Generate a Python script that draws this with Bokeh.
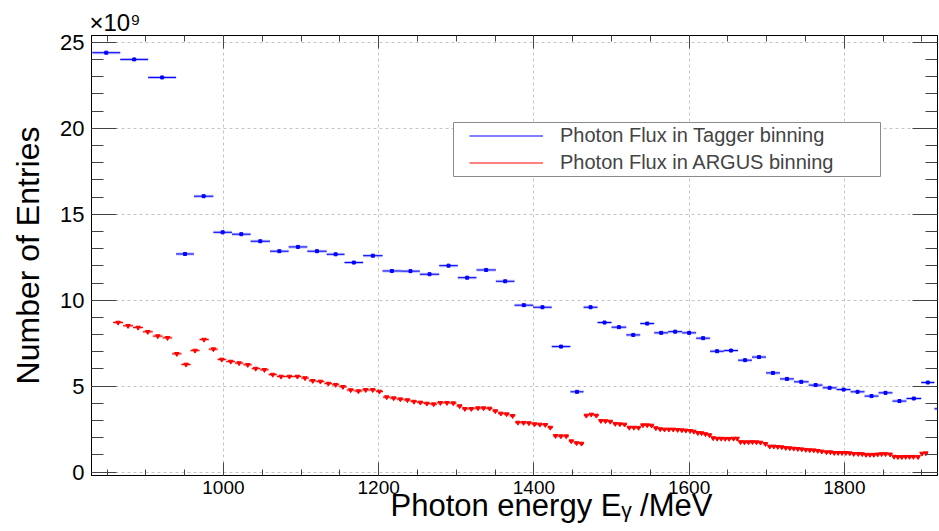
import numpy as np
from bokeh.plotting import figure
from bokeh.models import (Range1d, LinearAxis, SingleIntervalTicker, Legend, LegendItem,
                          BoxAnnotation, ColumnDataSource, Grid, Title)
from bokeh.embed import file_html
from bokeh.resources import INLINE

# ---------------- data (flux in units of 1e9) ----------------
tagger_edges = [831, 867, 903, 939, 962, 987, 1011, 1035, 1060, 1084, 1108, 1133, 1156,
                1180, 1205, 1229, 1253, 1278, 1302, 1326, 1351, 1375, 1399, 1423, 1447,
                1464, 1482, 1500, 1519, 1537, 1555, 1573, 1591, 1609, 1627, 1645, 1663,
                1681, 1699, 1717, 1735, 1754, 1772, 1790, 1808, 1826, 1844, 1862, 1880,
                1899, 1916, 1934]
tagger_flux = [24.40, 24.01, 22.96, 12.69, 16.05, 13.95, 13.84, 13.43, 12.85, 13.10,
               12.85, 12.67, 12.19, 12.59, 11.70, 11.69, 11.51, 12.01, 11.31, 11.76,
               11.10, 9.71, 9.59, 7.30, 4.67, 9.59, 8.70, 8.43, 7.98, 8.64,
               8.10, 8.17, 8.10, 7.79, 7.03, 7.07, 6.51, 6.69, 5.77, 5.42,
               5.25, 5.06, 4.90, 4.80, 4.67, 4.42, 4.61, 4.13, 4.28, 5.21, 3.68]

argus_energy = [864.3, 877.1, 890.0, 902.5, 915.4, 927.9, 939.9, 951.8, 963.4, 975.0,
                987.1, 997.8, 1009.4, 1020.1, 1031.3, 1041.6, 1052.8, 1063.5, 1074.2, 1085.0,
                1095.3, 1105.1, 1115.0, 1124.9, 1135.2, 1144.6, 1154.0, 1163.9, 1173.9, 1183.3,
                1192.3, 1200.9, 1210.3, 1219.3, 1227.9, 1237.0, 1245.5, 1253.7, 1262.2, 1270.8,
                1279.5, 1288.0, 1296.2, 1304.3, 1311.1, 1319.4, 1327.9, 1335.2, 1342.9, 1350.3,
                1357.5, 1364.8, 1372.6, 1379.4, 1386.7, 1393.6, 1400.9, 1407.7, 1414.7, 1421.1,
                1427.9, 1434.8, 1441.7, 1448.2, 1455.0, 1461.4, 1467.5, 1473.9, 1480.4, 1486.3,
                1492.3, 1498.4, 1504.8, 1510.8, 1516.8, 1522.9, 1528.8, 1534.8, 1540.4, 1546.0,
                1551.6, 1557.1, 1562.8, 1568.3, 1573.9, 1579.5, 1585.1, 1590.6, 1595.7, 1601.4,
                1606.1, 1611.2, 1616.0, 1621.1, 1626.3, 1631.0, 1636.2, 1641.3, 1646.5, 1651.6,
                1657.2, 1661.9, 1666.2, 1671.3, 1676.5, 1681.6, 1686.8, 1692.0, 1698.4, 1703.9,
                1709.1, 1714.2, 1719.4, 1724.5, 1729.7, 1734.8, 1740.0, 1745.1, 1750.3, 1755.4,
                1760.6, 1765.7, 1770.9, 1777.0, 1782.0, 1787.0, 1792.0, 1797.0, 1802.0, 1807.0,
                1812.0, 1818.0, 1823.0, 1828.0, 1833.0, 1838.0, 1843.0, 1848.0, 1853.0, 1859.0,
                1864.0, 1869.0, 1874.0, 1879.0, 1884.0, 1889.0, 1895.0, 1900.0, 1905.0]
argus_flux = [8.70, 8.51, 8.41, 8.16, 7.91, 7.81, 6.88, 6.26, 7.07, 7.71,
              7.15, 6.55, 6.43, 6.34, 6.24, 6.02, 5.95, 5.67, 5.56, 5.56,
              5.56, 5.47, 5.31, 5.27, 5.15, 5.08, 4.96, 4.77, 4.71, 4.78,
              4.78, 4.69, 4.36, 4.30, 4.24, 4.19, 4.10, 4.05, 3.99, 3.95,
              4.03, 4.03, 4.01, 3.84, 3.68, 3.68, 3.72, 3.72, 3.70, 3.55,
              3.41, 3.37, 3.27, 2.88, 2.87, 2.85, 2.79, 2.77, 2.75, 2.59,
              2.11, 2.09, 2.09, 1.80, 1.69, 1.66, 3.29, 3.35, 3.29, 2.98,
              2.97, 2.94, 2.81, 2.79, 2.77, 2.59, 2.59, 2.58, 2.73, 2.73,
              2.71, 2.56, 2.50, 2.48, 2.48, 2.48, 2.46, 2.44, 2.42, 2.40,
              2.36, 2.28, 2.27, 2.21, 2.15, 1.98, 1.95, 1.95, 1.94, 1.94,
              1.95, 1.95, 1.75, 1.74, 1.74, 1.75, 1.74, 1.72, 1.64, 1.49,
              1.49, 1.47, 1.45, 1.41, 1.39, 1.37, 1.35, 1.33, 1.30, 1.28,
              1.27, 1.24, 1.20, 1.16, 1.16, 1.12, 1.12, 1.12, 1.12, 1.10,
              1.06, 1.06, 1.05, 1.01, 1.01, 1.01, 1.03, 1.05, 1.05, 1.03,
              0.90, 0.88, 0.88, 0.89, 0.89, 0.89, 0.88, 1.08, 1.10]

series_labels = ["Photon Flux in Tagger binning", "Photon Flux in ARGUS binning"]
x_title = "Photon energy E\u1d67 /MeV"
y_title = "Number of Entries"
exponent_label = "\u00d710\u2079"

# ---------------- derived bin geometry ----------------
te = np.array(tagger_edges, dtype=float)
tag_src = ColumnDataSource(dict(left=te[:-1], right=te[1:], center=(te[:-1] + te[1:]) / 2,
                                flux=tagger_flux))
ac = np.array(argus_energy, dtype=float)
mids = (ac[:-1] + ac[1:]) / 2
a_left = np.concatenate([[ac[0] - (ac[1] - ac[0]) / 2], mids])
a_right = np.concatenate([mids, [ac[-1] + (ac[-1] - ac[-2]) / 2]])
arg_src = ColumnDataSource(dict(left=a_left, right=a_right, center=ac, flux=argus_flux))

FONT = "Liberation Sans"

p = figure(width=939, height=531, x_range=Range1d(830, 1920), y_range=Range1d(-0.2, 25.4),
           output_backend="svg", toolbar_location=None, x_axis_type=None, y_axis_type=None,
           min_border_left=91, min_border_right=2, min_border_top=35, min_border_bottom=56)
p.outline_line_color = "black"
p.outline_line_width = 1
p.background_fill_color = "white"
p.border_fill_color = "white"

xt = SingleIntervalTicker(interval=200, num_minor_ticks=4)
yt = SingleIntervalTicker(interval=5, num_minor_ticks=5)


def style_axis(ax, major_in, minor_in, labels, size="20px", standoff=6):
    ax.major_tick_in = major_in
    ax.major_tick_out = 0
    ax.minor_tick_in = minor_in
    ax.minor_tick_out = 0
    ax.axis_line_color = "black"
    ax.major_tick_line_color = "#444444"
    ax.minor_tick_line_color = "#444444"
    ax.major_label_text_font = FONT
    ax.major_label_text_color = "black"
    if labels:
        ax.major_label_text_font_size = size
        ax.major_label_standoff = standoff
    else:
        ax.major_label_text_font_size = "1px"
        ax.major_label_text_alpha = 0
        ax.major_label_standoff = 0


xb = LinearAxis(ticker=xt)
style_axis(xb, 13, 6, True, "19px", 5)
p.add_layout(xb, "below")
xa = LinearAxis(ticker=xt)
style_axis(xa, 13, 6, False)
p.add_layout(xa, "above")
yl = LinearAxis(ticker=yt)
style_axis(yl, 25, 12, True, "22px", 7)
yl.axis_label = y_title
yl.axis_label_text_font = FONT
yl.axis_label_text_font_size = "32px"
yl.axis_label_text_font_style = "normal"
yl.axis_label_text_color = "black"
yl.axis_label_standoff = 11
p.add_layout(yl, "left")
yr = LinearAxis(ticker=yt)
style_axis(yr, 25, 12, False)
p.add_layout(yr, "right")

# x title (left part of the axis, as in the reference) and the exponent
p.add_layout(Title(text=x_title, align="left", offset=299, standoff=-18, vertical_align="top",
                   text_font=FONT, text_font_size="31px", text_font_style="normal",
                   text_color="black"), "below")
p.add_layout(Title(text=exponent_label, align="left", offset=-2, standoff=0,
                   text_font=FONT, text_font_size="24px", text_font_style="normal",
                   text_color="black"), "above")

for dim, tk in ((0, xt), (1, yt)):
    p.add_layout(Grid(dimension=dim, ticker=tk, grid_line_color="#c4c4c4",
                      grid_line_dash="3 3", grid_line_width=1))

# tagger (blue)
p.segment(x0="left", y0="flux", x1="right", y1="flux", source=tag_src,
          line_color="blue", line_width=3, line_alpha=0.25)
b_line = p.segment(x0="left", y0="flux", x1="right", y1="flux", source=tag_src,
                   line_color="blue", line_width=1)
p.scatter(x="center", y="flux", source=tag_src, marker="square", size=3,
          fill_color="blue", line_color="blue")

# argus (red)
p.segment(x0="left", y0="flux", x1="right", y1="flux", source=arg_src,
          line_color="red", line_width=3, line_alpha=0.25)
r_line = p.segment(x0="left", y0="flux", x1="right", y1="flux", source=arg_src,
                   line_color="red", line_width=1)
p.scatter(x="center", y="flux", source=arg_src, marker="inverted_triangle", size=4.5,
          fill_color="red", line_color="red")

# legend box + legend
p.add_layout(BoxAnnotation(left=453, right=880, top=122, bottom=176,
                           left_units="canvas", right_units="canvas",
                           top_units="canvas", bottom_units="canvas",
                           fill_color="white", fill_alpha=1.0,
                           line_color="#8a8a8a", line_alpha=1.0, line_width=1,
                           level="annotation"))
legend = Legend(items=[LegendItem(label=series_labels[0], renderers=[b_line]),
                       LegendItem(label=series_labels[1], renderers=[r_line])],
                location=(376, 299), glyph_width=74, glyph_height=23, label_height=23,
                spacing=4, padding=2, margin=0, label_standoff=17,
                label_text_font=FONT, label_text_font_size="20px",
                border_line_alpha=0, background_fill_alpha=0)
p.add_layout(legend)

open("out.html", "w").write(file_html(p, INLINE))
